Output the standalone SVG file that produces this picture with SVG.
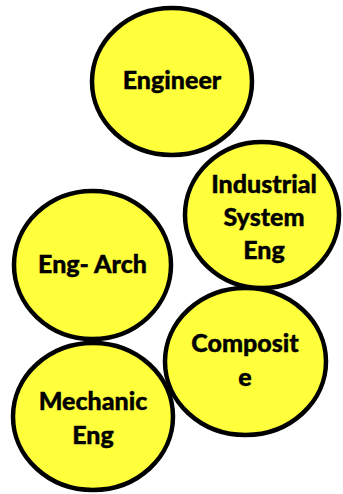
<svg xmlns="http://www.w3.org/2000/svg" width="343" height="494" viewBox="0 0 343 494">
<style>
.n{fill:#FFFF3C;stroke:#000;stroke-width:4.5}
.t{font-family:Lato,"Open Sans","Liberation Sans",sans-serif;font-weight:900;font-size:25px;fill:#000;text-anchor:middle;stroke:#000;stroke-width:0.4}
</style>
<rect width="343" height="494" fill="#fff"/>
<g id="connectors"></g>
<g id="engineer"><ellipse class="n" cx="172" cy="81.5" rx="80" ry="73.5"/><text class="t" x="172" y="89">Engineer</text></g>
<g id="industrial"><ellipse class="n" cx="262" cy="215" rx="77" ry="73"/><text class="t" x="264" y="193">Industrial</text><text class="t" x="264" y="226">System</text><text class="t" x="264" y="259">Eng</text></g>
<g id="engarch"><ellipse class="n" cx="92.5" cy="265" rx="78.5" ry="74"/><text class="t" x="92.5" y="273">Eng- Arch</text></g>
<g id="composite"><ellipse class="n" cx="245.5" cy="361.5" rx="80.5" ry="73.5"/><text class="t" x="245" y="352">Composit</text><text class="t" x="245" y="386">e</text></g>
<g id="mechanic"><ellipse class="n" cx="93" cy="416.5" rx="80" ry="73.5"/><text class="t" x="93" y="410">Mechanic</text><text class="t" x="93" y="444">Eng</text></g>
</svg>
